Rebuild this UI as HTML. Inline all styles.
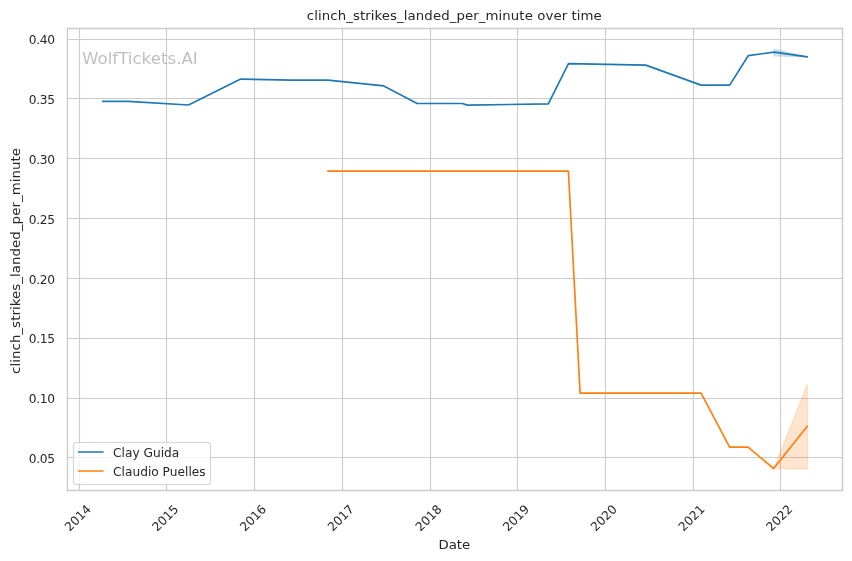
<!DOCTYPE html>
<html lang="en">
<head>
<meta charset="utf-8">
<title>clinch_strikes_landed_per_minute over time</title>
<style>
html,body{margin:0;padding:0;background:#fff;}
body{width:852px;height:561px;overflow:hidden;}
svg{display:block;}
text{font-family:"DejaVu Sans","Liberation Sans",sans-serif;fill:#262626;}
.tk{font-size:12.22px;}
.lb{font-size:13.33px;}
.g{stroke:#ccc;stroke-width:1.11;fill:none;}
.sp{stroke:#ccc;stroke-width:1.39;fill:none;stroke-linecap:square;}
.ln{fill:none;stroke-width:1.67;stroke-linecap:round;stroke-linejoin:round;}
</style>
</head>
<body>
<svg width="852" height="561" viewBox="0 0 852 561">
<rect x="0" y="0" width="852" height="561" fill="#fff"/>
<g class="g">
<line x1="79.5" y1="28.5" x2="79.5" y2="490.5"/>
<line x1="166.5" y1="28.5" x2="166.5" y2="490.5"/>
<line x1="254.5" y1="28.5" x2="254.5" y2="490.5"/>
<line x1="342.5" y1="28.5" x2="342.5" y2="490.5"/>
<line x1="430.5" y1="28.5" x2="430.5" y2="490.5"/>
<line x1="517.5" y1="28.5" x2="517.5" y2="490.5"/>
<line x1="605.5" y1="28.5" x2="605.5" y2="490.5"/>
<line x1="693.5" y1="28.5" x2="693.5" y2="490.5"/>
<line x1="780.5" y1="28.5" x2="780.5" y2="490.5"/>
<line x1="67.5" y1="39.5" x2="842.5" y2="39.5"/>
<line x1="67.5" y1="98.5" x2="842.5" y2="98.5"/>
<line x1="67.5" y1="158.5" x2="842.5" y2="158.5"/>
<line x1="67.5" y1="218.5" x2="842.5" y2="218.5"/>
<line x1="67.5" y1="278.5" x2="842.5" y2="278.5"/>
<line x1="67.5" y1="338.5" x2="842.5" y2="338.5"/>
<line x1="67.5" y1="398.5" x2="842.5" y2="398.5"/>
<line x1="67.5" y1="457.5" x2="842.5" y2="457.5"/>
</g>
<g class="tk">
<text transform="translate(69.67 532.05) rotate(-45) scale(1 1.000)">2014</text>
<text transform="translate(157.31 532.05) rotate(-45) scale(1 1.000)">2015</text>
<text transform="translate(244.94 532.05) rotate(-45) scale(1 1.000)">2016</text>
<text transform="translate(332.82 532.05) rotate(-45) scale(1 1.000)">2017</text>
<text transform="translate(420.46 532.05) rotate(-45) scale(1 1.000)">2018</text>
<text transform="translate(508.09 532.05) rotate(-45) scale(1 1.000)">2019</text>
<text transform="translate(595.73 532.05) rotate(-45) scale(1 1.000)">2020</text>
<text transform="translate(683.61 532.05) rotate(-45) scale(1 1.000)">2021</text>
<text transform="translate(771.24 532.05) rotate(-45) scale(1 1.000)">2022</text>
<text transform="translate(55.04 44.24) scale(1 1.000)" text-anchor="end" textLength="26.22" lengthAdjust="spacing">0.40</text>
<text transform="translate(55.04 104.07) scale(1 1.000)" text-anchor="end" textLength="26.22" lengthAdjust="spacing">0.35</text>
<text transform="translate(55.04 163.90) scale(1 1.000)" text-anchor="end" textLength="26.22" lengthAdjust="spacing">0.30</text>
<text transform="translate(55.04 223.73) scale(1 1.000)" text-anchor="end" textLength="26.22" lengthAdjust="spacing">0.25</text>
<text transform="translate(55.04 283.56) scale(1 1.000)" text-anchor="end" textLength="26.22" lengthAdjust="spacing">0.20</text>
<text transform="translate(55.04 343.39) scale(1 1.000)" text-anchor="end" textLength="26.22" lengthAdjust="spacing">0.15</text>
<text transform="translate(55.04 403.22) scale(1 1.000)" text-anchor="end" textLength="26.22" lengthAdjust="spacing">0.10</text>
<text transform="translate(55.04 463.05) scale(1 1.000)" text-anchor="end" textLength="26.22" lengthAdjust="spacing">0.05</text>
</g>
<text class="lb" transform="translate(454.32 549.04) scale(1 0.930)" text-anchor="middle">Date</text>
<text class="lb" transform="translate(20.03 260.96) rotate(-90) scale(1 0.970)" text-anchor="middle" textLength="226.00" lengthAdjust="spacing">clinch_strikes_landed_per_minute</text>
<text class="lb" transform="translate(454.32 20.03) scale(1 0.930)" text-anchor="middle" textLength="295.00" lengthAdjust="spacing">clinch_strikes_landed_per_minute over time</text>
<polygon points="774.1,56.0 807.3,56.8 774.1,49.2" fill="#1f77b4" fill-opacity="0.2" stroke="#1f77b4" stroke-opacity="0.2" stroke-width="1.11" stroke-linejoin="round"/>
<polygon points="773.9,468.6 807.4,469.1 807.4,384.0" fill="#ff7f0e" fill-opacity="0.2" stroke="#ff7f0e" stroke-opacity="0.2" stroke-width="1.11" stroke-linejoin="round"/>
<polyline class="ln" stroke="#1f77b4" points="102.7,101.4 128.1,101.4 188.5,105.0 240.7,79.1 291.3,80.2 327.8,80.2 383.8,85.9 417.2,103.5 462.3,103.5 467.5,105.1 548.3,103.9 568.5,63.6 645.8,65.1 701.0,85.1 729.7,85.1 748.2,55.7 774.1,52.1 807.3,56.8"/>
<polyline class="ln" stroke="#ff7f0e" points="327.8,171.1 568.4,171.1 580.1,393.1 701.1,393.1 729.6,447.2 748.1,447.2 773.6,468.5 807.3,426.2"/>
<g class="sp"><line x1="67.5" y1="490.5" x2="67.5" y2="28.5"/><line x1="842.5" y1="490.5" x2="842.5" y2="28.5"/><line x1="67.5" y1="490.5" x2="842.5" y2="490.5"/><line x1="67.5" y1="28.5" x2="842.5" y2="28.5"/></g>
<text transform="translate(82.00 64.13) scale(1 1.000)" style="font-size:16.67px;fill:#808080;opacity:0.5">WolfTickets.AI</text>
<rect x="73.5" y="442.5" width="137" height="42" rx="2.44" ry="2.44" fill="#fff" stroke="#ccc" stroke-width="1.11" opacity="0.8"/>
<line class="ln" stroke="#1f77b4" x1="78.57" y1="452.0" x2="103.01" y2="452.0"/>
<text class="tk" transform="translate(113.04 457.15) scale(1 0.970)">Clay Guida</text>
<line class="ln" stroke="#ff7f0e" x1="78.57" y1="471.0" x2="103.01" y2="471.0"/>
<text class="tk" transform="translate(113.04 476.15) scale(1 0.970)">Claudio Puelles</text>
</svg>
</body>
</html>
